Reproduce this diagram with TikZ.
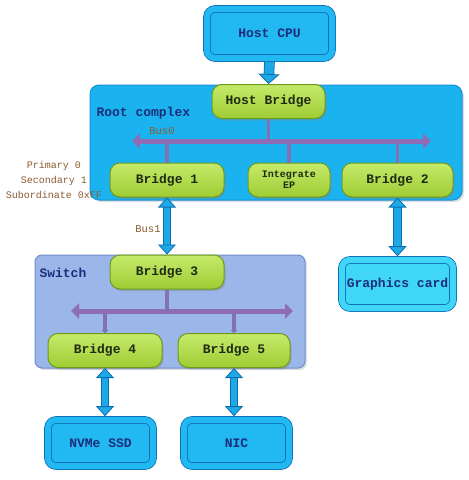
\documentclass[tikz,border=0pt]{standalone}
\usepackage{fontspec}
\setmonofont{Liberation Mono}
\usetikzlibrary{arrows.meta,shadows}

\definecolor{rootblue}{HTML}{1BB3EF}
\definecolor{rootedge}{HTML}{1591D6}
\definecolor{devcyan}{HTML}{22B8F2}
\definecolor{devedge}{HTML}{0E6FB5}
\definecolor{gfxcyan}{HTML}{3FD6F8}
\definecolor{greentop}{HTML}{C6EA6A}
\definecolor{greenbot}{HTML}{9FCC34}
\definecolor{greenedge}{HTML}{6E9A1C}
\definecolor{switchfill}{HTML}{9BB6E8}
\definecolor{switchedge}{HTML}{6F8FCB}
\definecolor{buspurple}{HTML}{8F6CB6}
\definecolor{stubpurple}{HTML}{8272B4}
\definecolor{fatcyan}{HTML}{1DA9E6}
\definecolor{fatedge}{HTML}{0C6CB0}
\definecolor{textblue}{HTML}{1B2E7A}
\definecolor{textdark}{HTML}{1F2A14}
\definecolor{labelbrown}{HTML}{8A5A2E}

\begin{document}
\begin{tikzpicture}[x=1pt, y=-1pt, >=latex,
    bigfont/.style={font=\ttfamily\bfseries\fontsize{13}{15}\selectfont},
    rootbox/.style={draw=rootedge, line width=1pt, fill=rootblue, rounded corners=9pt,
        drop shadow={opacity=0.25, shadow xshift=2pt, shadow yshift=-2pt}},
    switchbox/.style={draw=switchedge, line width=1pt, fill=switchfill, rounded corners=7pt,
        drop shadow={opacity=0.25, shadow xshift=2pt, shadow yshift=-2pt}},
    devbox/.style={bigfont, text=textblue, draw=devedge, line width=0.8pt, double=devcyan,
        double distance=6pt, fill=devcyan, rounded corners=8pt, outer sep=3.8pt},
    bridge/.style={bigfont, text=textdark, draw=greenedge, line width=1pt,
        top color=greentop, bottom color=greenbot, rounded corners=10pt, minimum height=34pt,
        drop shadow={opacity=0.35, shadow xshift=1.5pt, shadow yshift=-2pt}},
    boxlabel/.style={bigfont, text=textblue, anchor=west},
    buslabel/.style={font=\ttfamily\fontsize{10.5}{12}\selectfont, text=labelbrown},
    bus/.style={draw=buspurple, line width=5pt,
        {Triangle[width=15pt,length=8pt]}-{Triangle[width=15pt,length=8pt]}},
    stub/.style={draw=stubpurple, line width=3.5pt},
    stubdown/.style={stub, -{Triangle[width=7pt,length=3pt]}},
    fat/.style={draw=fatedge, line width=0.8pt, double=fatcyan, double distance=6.5pt},
    fatone/.style={draw=fatedge, line width=0.8pt, double=fatcyan, double distance=9pt,
        -{Triangle[width=21pt,length=10pt,fill=fatcyan,color=fatedge,line width=0.8pt]}},
    fattwo/.style={fat, {Triangle[width=18pt,length=10pt,fill=fatcyan,color=fatedge,line width=0.8pt]}-{Triangle[width=18pt,length=10pt,fill=fatcyan,color=fatedge,line width=0.8pt]}}]

    \useasboundingbox (0,0) rectangle (469,480);

    % 1. Root complex and switch
    \node[rootbox, minimum width=372pt, minimum height=115pt] (rc) at (276,142.5) {};
    \node[boxlabel] (rclabel) at (93,113) {Root complex};
    \node[switchbox, minimum width=270pt, minimum height=113pt] (sw) at (170,311.5) {};
    \node[boxlabel] (swlabel) at (36,273) {Switch};

    % 2. Host CPU and end devices
    \node[devbox, minimum width=125pt, minimum height=49pt] (cpu) at (269.5,33.5) {Host CPU};
    \node[devbox, fill=gfxcyan, double=gfxcyan, minimum width=111pt, minimum height=48pt] (gfx) at (397.5,284) {Graphics card};
    \node[devbox, minimum width=105pt, minimum height=46pt] (nvme) at (100.5,443) {NVMe SSD};
    \node[devbox, minimum width=105pt, minimum height=46pt] (nic) at (236.5,443) {NIC};

    % 3. Buses (drawn under the bridges)
    \coordinate (bus0w) at (132,141);
    \coordinate (bus0e) at (431,141);
    \draw[bus] (bus0w) -- (bus0e);
    \node[buslabel] (bus0label) at (162,131) {Bus0};

    \coordinate (bus2w) at (71,311);
    \coordinate (bus2e) at (293,311);
    \draw[bus] (bus2w) -- (bus2e);

    % 4. Bridges
    \node[bridge, minimum width=113pt] (hb) at (268.5,101.5) {Host Bridge};
    \node[bridge, minimum width=114pt] (br1) at (167,180) {Bridge 1};
    \node[bridge, minimum width=82pt, align=center, font=\ttfamily\bfseries\fontsize{10}{11}\selectfont] (iep) at (289,180) {Integrate\\EP};
    \node[bridge, minimum width=111pt] (br2) at (397.5,180) {Bridge 2};
    \node[bridge, minimum width=114pt] (br3) at (167,272) {Bridge 3};
    \node[bridge, minimum width=114pt] (br4) at (105,350.5) {Bridge 4};
    \node[bridge, minimum width=112pt] (br5) at (234,350.5) {Bridge 5};

    % 5. Stubs onto the buses
    \draw[stub] (hb.south) -- (hb.south |- bus0w);
    \draw[stub] (br1.north |- bus0w) -- (br1.north);
    \draw[stub] (iep.north |- bus0w) -- (iep.north);
    \draw[stub] (br2.north |- bus0w) -- (br2.north);
    \draw[stubdown] (br3.south) -- ([yshift=-3pt]br3.south |- bus2w);
    \draw[stubdown] (br4.north |- bus2w) -- (br4.north);
    \draw[stubdown] (br5.north |- bus2w) -- (br5.north);

    % 6. Links between boxes
    \draw[fatone] (cpu.south) -- (hb.north);
    \draw[fattwo] (br1.south) -- (br3.north);
    \draw[fattwo] (br2.south) -- (gfx.north);
    \draw[fattwo] (br4.south) -- (br4.south |- nvme.north);
    \draw[fattwo] (br5.south) -- (br5.south |- nic.north);

    % 7. Bus numbers of Bridge 1
    \node[buslabel, align=center, font=\ttfamily\fontsize{10}{15}\selectfont] (br1nums) at (54,180) {Primary 0\\Secondary 1\\Subordinate 0xFF};
    \node[buslabel] (bus1label) at (148,229) {Bus1};

\end{tikzpicture}
\end{document}
